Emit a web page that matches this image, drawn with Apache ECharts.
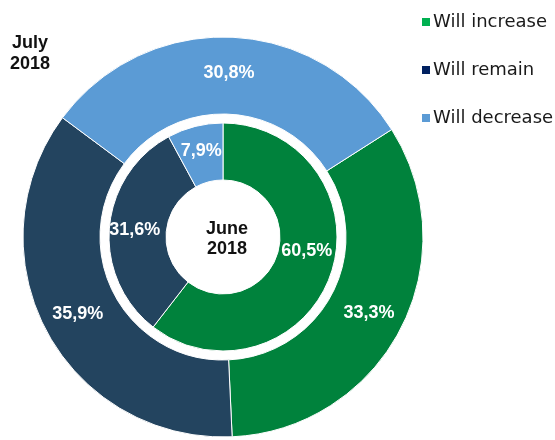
<!DOCTYPE html>
<html>
<head>
<meta charset="utf-8">
<script src="https://cdn.jsdelivr.net/npm/echarts@6/dist/echarts.min.js"></script>
<style>
  html, body { margin: 0; padding: 0; background: #fff; }
  #chart { width: 555px; height: 440px; }
</style>
</head>
<body>
<div id="chart"></div>
<script>
// Survey answers, share of respondents (%)
const categories = ['Will increase', 'Will remain', 'Will decrease'];
const june2018 = [60.5, 31.6, 7.9];
const july2018 = [33.3, 35.9, 30.8];

const sliceColors = ['#00823C', '#23445F', '#5B9BD5'];
const legendColors = ['#00B050', '#002060', '#5B9BD5'];

const CENTER = [223, 237];
const FONT = 'Liberation Sans, Arial, sans-serif';

function fmt(v) {
  return v.toFixed(1).replace('.', ',') + '%';
}

function buildData(values, extra) {
  return values.map((v, i) => Object.assign({
    name: categories[i],
    value: v,
    itemStyle: { color: sliceColors[i] }
  }, extra ? extra(i) : {}));
}

const labelStyle = {
  show: true,
  position: 'inside',
  color: '#fff',
  fontFamily: FONT,
  fontWeight: 'bold',
  fontSize: 18,
  formatter: p => fmt(p.value)
};

const chart = echarts.init(document.getElementById('chart'), null, { renderer: 'canvas' });

chart.setOption({
  animation: false,
  backgroundColor: '#fff',
  legend: {
    orient: 'vertical',
    left: 415,
    top: 7,
    itemWidth: 10,
    itemHeight: 10,
    itemGap: 28,
    icon: 'rect',
    selectedMode: false,
    textStyle: {
      fontFamily: 'DejaVu Sans, sans-serif',
      fontSize: 18,
      lineHeight: 20,
      color: '#1a1a1a',
      padding: [0, 0, 0, -3]
    },
    data: categories.map((c, i) => ({ name: c, itemStyle: { color: legendColors[i] } }))
  },
  title: [
    {
      text: 'July\n2018',
      left: 25,
      top: 28,
      textAlign: 'center',
      textStyle: { fontFamily: FONT, fontWeight: 'bold', fontSize: 18, lineHeight: 21, color: '#111' }
    },
    {
      text: 'June\n2018',
      left: 222,
      top: 214,
      textAlign: 'center',
      textStyle: { fontFamily: FONT, fontWeight: 'bold', fontSize: 18, lineHeight: 20, color: '#111' }
    }
  ],
  series: [
    {
      name: 'July 2018',
      type: 'pie',
      center: CENTER,
      radius: [123, 200],
      startAngle: 32.5,
      clockwise: true,
      avoidLabelOverlap: false,
      label: labelStyle,
      labelLine: { show: false },
      itemStyle: { borderColor: '#fff', borderWidth: 1 },
      emphasis: { disabled: true },
      data: buildData(july2018)
    },
    {
      name: 'June 2018',
      type: 'pie',
      center: CENTER,
      radius: [57, 114],
      startAngle: 90,
      clockwise: true,
      avoidLabelOverlap: false,
      label: labelStyle,
      labelLine: { show: false },
      itemStyle: { borderColor: '#fff', borderWidth: 1 },
      emphasis: { disabled: true },
      data: buildData(june2018, i => (i === 0 ? { label: { offset: [0, -15] } } : {}))
    }
  ]
});
</script>
</body>
</html>
